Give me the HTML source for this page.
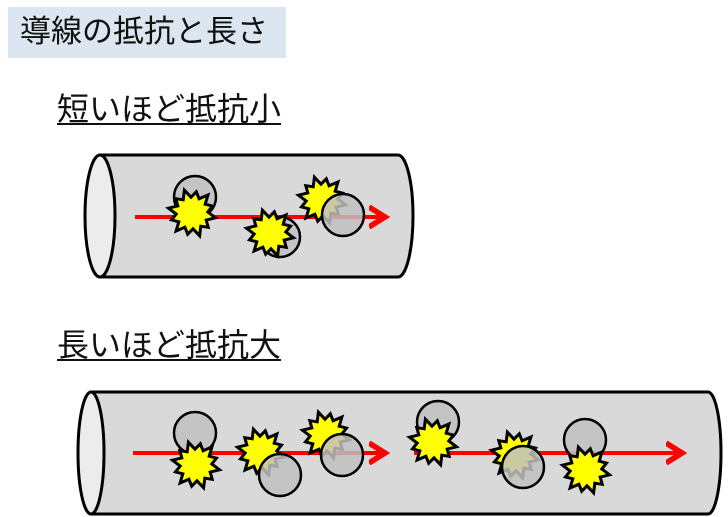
<!DOCTYPE html>
<html><head><meta charset="utf-8"><style>
body{margin:0;width:728px;height:517px;background:#fff;overflow:hidden;position:relative;font-family:"Liberation Sans","Noto Sans CJK JP",sans-serif;}
.t{position:absolute;left:8px;top:7px;width:278px;height:51px;background:#dbe6f0;}
.t span{position:absolute;left:12px;top:6px;font-size:31px;line-height:38px;color:#111;white-space:nowrap;letter-spacing:0px}
.h{position:absolute;left:57px;font-size:32px;line-height:38px;text-decoration:underline;text-underline-offset:3px;text-decoration-thickness:2px;color:#111;white-space:nowrap;letter-spacing:0px}
svg{position:absolute;left:0;top:0}
</style></head><body>
<div class="t"><span>導線の抵抗と長さ</span></div>
<div class="h" style="top:90px">短いほど抵抗小</div>
<div class="h" style="top:326px">長いほど抵抗大</div>
<svg id="s" width="728" height="517" xmlns="http://www.w3.org/2000/svg">
<defs><marker id="a" markerWidth="6" markerHeight="6" refX="4" refY="3" orient="auto" markerUnits="strokeWidth"><path d="M0,0.5 L4,3 L0,5.5" fill="none" stroke="#ff0000" stroke-width="1.4"/></marker></defs>
<path d="M100,155 L398,155 A15,61 0 0 1 398,277 L100,277 Z" fill="#d9d9d9" stroke="#000" stroke-width="3"/>
<ellipse cx="100" cy="216" rx="15" ry="61" fill="#ececec" stroke="#000" stroke-width="3"/>
<line x1="135" y1="217" x2="385" y2="217" stroke="#ff0000" stroke-width="4" marker-end="url(#a)"/>
<g id="g1"></g>
<path d="M91,392 L708,392 A13,61 0 0 1 708,514 L91,514 Z" fill="#d9d9d9" stroke="#000" stroke-width="3"/>
<ellipse cx="91" cy="453" rx="13" ry="61" fill="#ececec" stroke="#000" stroke-width="3"/>
<line x1="133" y1="453" x2="385" y2="453" stroke="#ff0000" stroke-width="4" marker-end="url(#a)"/>
<line x1="414" y1="453" x2="682" y2="453" stroke="#ff0000" stroke-width="4" marker-end="url(#a)"/>
<g id="g2"></g>
</svg>
<script>
function star(cx,cy,r){var p=[],n=12;for(var i=0;i<2*n;i++){var a=i*Math.PI/n+0.2;var rr=i%2?r*0.66:r*(i%4==0?1:0.9);p.push((cx+rr*Math.cos(a)).toFixed(1)+","+(cy+rr*Math.sin(a)).toFixed(1));}
return '<polygon points="'+p.join(" ")+'" fill="#ffff00" stroke="#000" stroke-width="3" stroke-linejoin="miter"/>';}
function circ(cx,cy,r){return '<circle cx="'+cx+'" cy="'+cy+'" r="'+r+'" fill="#c0c0c0" fill-opacity="0.85" stroke="#000" stroke-width="2.5"/>';}
var R=24;
var g1='';
g1+=circ(195,197,21)+star(192,213,R);
g1+=circ(280,237,20)+star(270,233,R);
g1+=star(322,200,R)+circ(343,215,21);
document.getElementById('g1').innerHTML=g1;
var g2='';
g2+=circ(195,433,21)+star(196,465,R);
g2+=star(261,452,R)+circ(280,475,21);
g2+=star(326,435,R)+circ(342,455,21);
g2+=circ(438,422,21)+star(433,442,R);
g2+=star(515,455,R)+circ(523,467,21);
g2+=circ(585,440,21)+star(586,470,R);
document.getElementById('g2').innerHTML=g2;
</script>
</body></html>
